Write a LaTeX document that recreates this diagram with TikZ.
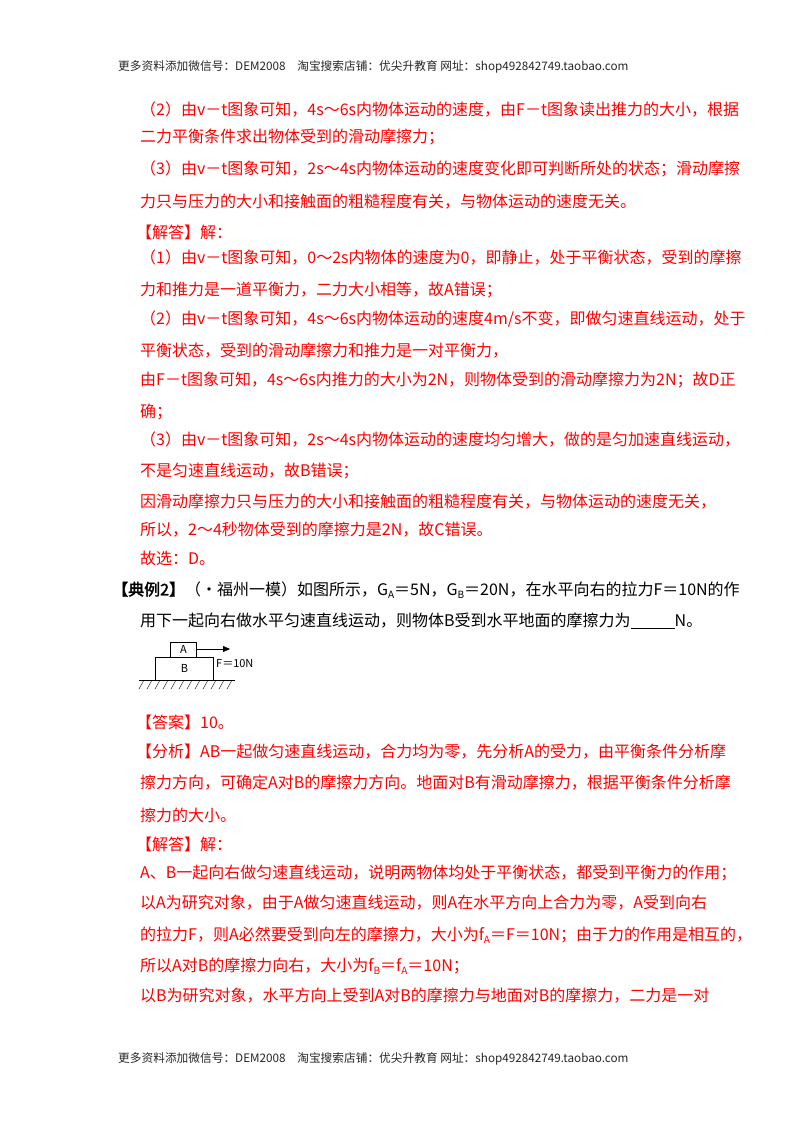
\documentclass[tikz,border=0pt]{standalone}
\usepackage{fontspec}
\setmainfont{Noto Sans CJK SC}[AutoFakeBold=2]
\usetikzlibrary{arrows.meta,patterns}
\definecolor{ansred}{RGB}{255,0,0}
\newcommand{\sbs}[1]{\raisebox{-0.35ex}{\fontsize{10}{10}\selectfont #1}}
\tikzset{
  ln/.style={anchor=west, inner sep=0pt, text=ansred, font=\fontsize{16}{16}\selectfont},
  hd/.style={anchor=west, inner sep=0pt, text=black!85, font=\fontsize{11.7}{12}\selectfont},
  blk/.style={ln, text=black}
}
\begin{document}
\begin{tikzpicture}[x=1pt,y=-1pt]

  \useasboundingbox[fill=white] (0,0) rectangle (800,1132);

  %%header and footer
  \node[hd] (head) at (118,67) {更多资料添加微信号：DEM2008\quad 淘宝搜索店铺：优尖升教育 网址：shop492842749.taobao.com};
  \node[hd] (foot) at (118,1059) {更多资料添加微信号：DEM2008\quad 淘宝搜索店铺：优尖升教育 网址：shop492842749.taobao.com};

  %%first answer
  \node[ln] (l1) at (140,110) {（2）由v－t图象可知，4s～6s内物体运动的速度，由F－t图象读出推力的大小，根据};
  \node[ln] (l2) at (140,137) {二力平衡条件求出物体受到的滑动摩擦力；};
  \node[ln] (l3) at (140,169) {（3）由v－t图象可知，2s～4s内物体运动的速度变化即可判断所处的状态；滑动摩擦};
  \node[ln] (l4) at (140,202) {力只与压力的大小和接触面的粗糙程度有关，与物体运动的速度无关。};
  \node[ln] (l5) at (136,232) {【解答】解：};
  \node[ln] (l6) at (140,258) {（1）由v－t图象可知，0～2s内物体的速度为0，即静止，处于平衡状态，受到的摩擦};
  \node[ln] (l7) at (140,290) {力和推力是一道平衡力，二力大小相等，故A错误；};
  \node[ln] (l8) at (140,319) {（2）由v－t图象可知，4s～6s内物体运动的速度4m/s不变，即做匀速直线运动，处于};
  \node[ln] (l9) at (140,351) {平衡状态，受到的滑动摩擦力和推力是一对平衡力，};
  \node[ln] (l10) at (140,380) {由F－t图象可知，4s～6s内推力的大小为2N，则物体受到的滑动摩擦力为2N；故D正};
  \node[ln] (l11) at (140,412) {确；};
  \node[ln] (l12) at (140,440) {（3）由v－t图象可知，2s～4s内物体运动的速度均匀增大，做的是匀加速直线运动，};
  \node[ln] (l13) at (140,471) {不是匀速直线运动，故B错误；};
  \node[ln] (l14) at (140,502) {因滑动摩擦力只与压力的大小和接触面的粗糙程度有关，与物体运动的速度无关，};
  \node[ln] (l15) at (140,530) {所以，2～4秒物体受到的摩擦力是2N，故C错误。};
  \node[ln] (l16) at (140,558) {故选：D。};

  %%question
  \node[blk] (q1) at (112,590) {\textbf{【典例2】}（•福州一模）如图所示，G\sbs{A}＝5N，G\sbs{B}＝20N，在水平向右的拉力F＝10N的作};
  \node[blk] (q2) at (140,621) {用下一起向右做水平匀速直线运动，则物体B受到水平地面的摩擦力为\underline{\hspace{44pt}}N。};

  %%blocks
  \node[draw, thick, minimum width=26pt, minimum height=15pt, inner sep=0pt, anchor=north west,
        font=\fontsize{11}{11}\selectfont] (blkA) at (170,642) {A};
  \node[draw, thick, minimum width=58pt, minimum height=23pt, inner sep=0pt, anchor=north west,
        font=\fontsize{11}{11}\selectfont] (blkB) at (155,657) {B};
  \coordinate (gl) at (139,680);
  \coordinate (gr) at (235,680);
  \draw[thick] (gl) -- (gr);
  \foreach \i in {0,...,11}
    \draw ({144+8*\i},680) -- ({139+8*\i},689);
  \coordinate (tip) at (230,649);
  \draw[-{Triangle[length=7pt,width=6pt]}] (blkA.east |- tip) -- (tip);
  \node[anchor=west, inner sep=0pt, font=\fontsize{11}{11}\selectfont] (force) at (216,664) {F＝10N};

  %%second answer
  \node[ln] (a1) at (136,722) {【答案】10。};
  \node[ln] (a2) at (136,752) {【分析】AB一起做匀速直线运动，合力均为零，先分析A的受力，由平衡条件分析摩};
  \node[ln] (a3) at (140,783) {擦力方向，可确定A对B的摩擦力方向。地面对B有滑动摩擦力，根据平衡条件分析摩};
  \node[ln] (a4) at (140,815) {擦力的大小。};
  \node[ln] (a5) at (136,844) {【解答】解：};
  \node[ln] (a6) at (140,873) {A、B一起向右做匀速直线运动，说明两物体均处于平衡状态，都受到平衡力的作用；};
  \node[ln] (a7) at (140,903) {以A为研究对象，由于A做匀速直线运动，则A在水平方向上合力为零，A受到向右};
  \node[ln] (a8) at (140,935) {的拉力F，则A必然要受到向左的摩擦力，大小为f\sbs{A}＝F＝10N；由于力的作用是相互的，};
  \node[ln] (a9) at (140,966) {所以A对B的摩擦力向右，大小为f\sbs{B}＝f\sbs{A}＝10N；};
  \node[ln] (a10) at (140,996) {以B为研究对象，水平方向上受到A对B的摩擦力与地面对B的摩擦力，二力是一对};

\end{tikzpicture}
\end{document}
